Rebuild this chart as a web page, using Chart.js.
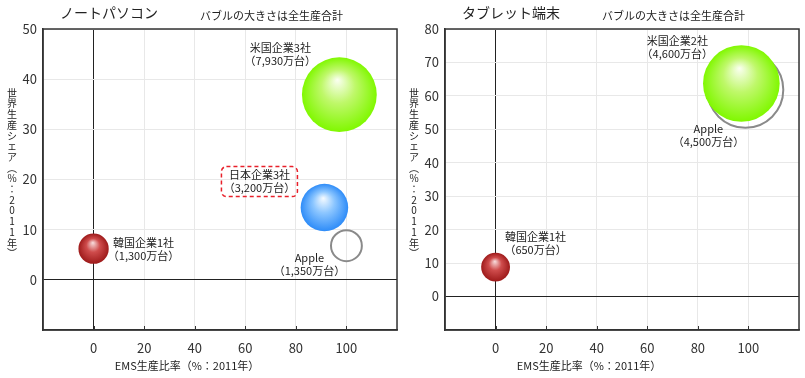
<!DOCTYPE html>
<html>
<head>
<meta charset="utf-8">
<script src="https://cdn.jsdelivr.net/npm/chart.js@4"></script>
<style>
  body { margin: 0; background: #fff; width: 805px; height: 378px; position: relative; overflow: hidden; }
  canvas { position: absolute; top: 0; }
  #left { left: 0; }
  #right { left: 402px; }
</style>
</head>
<body>
<canvas id="left" width="400" height="378"></canvas>
<canvas id="right" width="400" height="378"></canvas>
<script>
// Data
const pcNames = ['米国企業3社', '日本企業3社', 'Apple', '韓国企業1社'];
const pcUnits = ['（7,930万台）', '（3,200万台）', '（1,350万台）', '（1,300万台）'];
const pcEms = [97.2, 91.3, 100, 0];
const pcShare = [36.9, 14.4, 6.8, 6.2];
const pcTotal = [7930, 3200, 1350, 1300];

const tabNames = ['米国企業2社', 'Apple', '韓国企業1社'];
const tabUnits = ['（4,600万台）', '（4,500万台）', '（650万台）'];
const tabEms = [97.2, 98.8, 0];
const tabShare = [63.7, 61.8, 8.8];
const tabTotal = [4600, 4500, 650];

const xTicks = [0, 20, 40, 60, 80, 100];
const pcYTicks = [0, 10, 20, 30, 40, 50];
const tabYTicks = [0, 10, 20, 30, 40, 50, 60, 70, 80];

const FONT = "'Noto Sans CJK JP', 'Noto Sans', sans-serif";
const yTitle = '世界生産シェア︵%：2011年︶';
const xTitle = 'EMS生産比率（%：2011年）';

// ball colours: [center, middle, edge]
const styles = {
    green: ['#fbfff2', '#bff86a', '#80f800'],
    blue: ['#f6fbff', '#8cc6ff', '#2e8cf8'],
    red: ['#f8dede', '#cf4c4c', '#9e1a1a']
};

// the frame is fixed, so big bubbles must not push the plot area inward
Chart.registry.getController('bubble').prototype.getMaxOverflow = function () { return 0; };

function sphere(colors) {
    return function (ctx) {
        const chart = ctx.chart;
        const raw = ctx.raw;
        if (!raw || !chart.scales.x || !chart.scales.y) return colors[2];
        const x = chart.scales.x.getPixelForValue(raw.x);
        const y = chart.scales.y.getPixelForValue(raw.y);
        const r = raw.r;
        if (!isFinite(x) || !isFinite(y) || !isFinite(r)) return colors[2];
        const g = chart.ctx.createRadialGradient(x - r * 0.05, y - r * 0.4, 0, x, y, r);
        g.addColorStop(0, colors[0]);
        g.addColorStop(0.45, colors[1]);
        g.addColorStop(1, colors[2]);
        return g;
    };
}

function makeDataset(ems, share, total, k, style) {
    return {
        data: [{ x: ems, y: share, r: k * Math.sqrt(total) }],
        backgroundColor: style ? sphere(styles[style]) : 'rgba(0,0,0,0)',
        borderColor: style ? 'rgba(0,0,0,0)' : '#8a8a8a',
        borderWidth: style ? 0 : 2,
        hoverBorderWidth: style ? 0 : 2
    };
}

// frame, inner ticks, titles and labels
const decorPlugin = {
    id: 'decor',
    afterDatasetsDraw(chart, args, opts) {
        const ctx = chart.ctx;
        const area = chart.chartArea;
        const xs = chart.scales.x;
        ctx.save();
        ctx.strokeStyle = '#333';
        ctx.lineWidth = 1.5;
        ctx.strokeRect(area.left, area.top, area.right - area.left, area.bottom - area.top);
        ctx.lineWidth = 1;
        xTicks.forEach(v => {
            const px = Math.round(xs.getPixelForValue(v)) + 0.5;
            ctx.beginPath();
            ctx.moveTo(px, area.bottom);
            ctx.lineTo(px, area.bottom - 4);
            ctx.stroke();
        });

        ctx.fillStyle = '#222';
        ctx.textBaseline = 'middle';
        ctx.textAlign = 'left';
        ctx.font = '14px ' + FONT;
        ctx.fillText(opts.title, 60, 13);
        ctx.font = '11px ' + FONT;
        ctx.fillText('バブルの大きさは全生産合計', 200, 16);

        ctx.textAlign = 'center';
        ctx.fillText(xTitle, 187, 366);
        ctx.font = '10px ' + FONT;
        Array.from(yTitle).forEach((ch, i) => {
            ctx.fillText(ch, 12, 93 + i * 10.7);
        });

        opts.labels.forEach((lab, i) => {
            const el = chart.getDatasetMeta(i).data[0];
            const cx = el.x + lab.dx;
            const cy = el.y + lab.dy;
            ctx.fillStyle = '#222';
            ctx.font = '11px ' + FONT;
            ctx.fillText(opts.names[i], cx, cy);
            ctx.fillText(opts.units[i], cx, cy + 13);
            if (lab.box) {
                ctx.strokeStyle = '#e8202a';
                ctx.lineWidth = 1.5;
                ctx.setLineDash([4, 3]);
                ctx.beginPath();
                ctx.roundRect(cx - 38, cy - 8, 76, 30, 5);
                ctx.stroke();
                ctx.setLineDash([]);
            }
        });
        ctx.restore();
    }
};

function makeChart(id, datasets, yMax, yTicks, title, names, units, labels) {
    return new Chart(document.getElementById(id), {
        type: 'bubble',
        data: { datasets: datasets },
        options: {
            responsive: false,
            animation: false,
            devicePixelRatio: 1,
            layout: { padding: { top: 29, right: 3, left: 0, bottom: 0 } },
            plugins: {
                legend: { display: false },
                tooltip: { enabled: false },
                decor: { title: title, names: names, units: units, labels: labels }
            },
            scales: {
                x: {
                    type: 'linear',
                    min: -20, max: 120,
                    afterBuildTicks: s => { s.ticks = [-20].concat(xTicks, [120]).map(v => ({ value: v })); },
                    afterFit: s => { s.height = 48; s.paddingLeft = 0; s.paddingRight = 0; },
                    ticks: {
                        padding: 10,
                        color: '#333',
                        font: { family: FONT, size: 13 },
                        callback: v => (xTicks.includes(v) ? String(v) : '')
                    },
                    grid: {
                        drawTicks: false,
                        color: c => (c.tick && c.tick.value === 0 ? '#222' : '#e8e8e8'),
                        lineWidth: 1
                    },
                    border: { color: '#333', width: 1.5 }
                },
                y: {
                    type: 'linear',
                    min: -10, max: yMax,
                    afterBuildTicks: s => { s.ticks = [-10].concat(yTicks).map(v => ({ value: v })); },
                    afterFit: s => { s.width = 43; s.paddingTop = 0; s.paddingBottom = 0; },
                    ticks: {
                        padding: 6,
                        color: '#333',
                        font: { family: FONT, size: 13 },
                        callback: v => (yTicks.includes(v) ? String(v) : '')
                    },
                    grid: {
                        drawTicks: false,
                        color: c => (c.tick && c.tick.value === 0 ? '#222' : '#e8e8e8'),
                        lineWidth: 1
                    },
                    border: { color: '#333', width: 1.5 }
                }
            }
        },
        plugins: [decorPlugin]
    });
}

const pcStyles = ['green', 'blue', null, 'red'];
const pcSets = pcNames.map((n, i) => makeDataset(pcEms[i], pcShare[i], pcTotal[i], 0.42, pcStyles[i]));
makeChart('left', pcSets, 50, pcYTicks, 'ノートパソコン', pcNames, pcUnits, [
    { dx: -59, dy: -47 },
    { dx: -65, dy: -33, box: true },
    { dx: -37, dy: 12 },
    { dx: 50, dy: -6 }
]);

const tabStyles = ['green', null, 'red'];
const tabSets = tabNames.map((n, i) => makeDataset(tabEms[i], tabShare[i], tabTotal[i], 0.565, tabStyles[i]));
makeChart('right', tabSets, 80, tabYTicks, 'タブレット端末', tabNames, tabUnits, [
    { dx: -64, dy: -43 },
    { dx: -37, dy: 39 },
    { dx: 40, dy: -30 }
]);
</script>
</body>
</html>
